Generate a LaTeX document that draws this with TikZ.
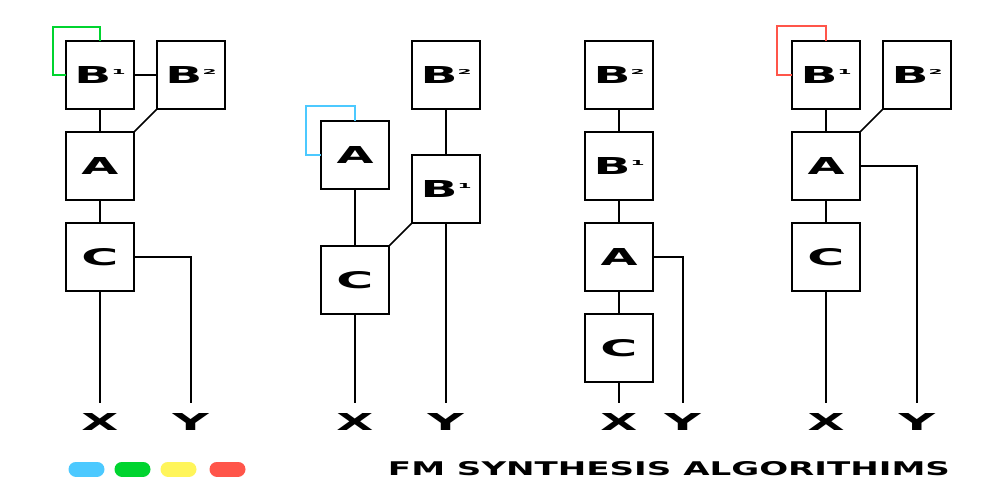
\documentclass[tikz,border=0pt]{standalone}
\usepackage{fontspec}
\setmainfont{DejaVu Sans}
\usepackage{graphicx}
\usetikzlibrary{positioning}
\definecolor{fbcyan}{HTML}{4CC9FF}
\definecolor{fbgreen}{HTML}{00D42F}
\definecolor{fbyellow}{HTML}{FFF55A}
\definecolor{fbred}{HTML}{FF554A}
\tikzstyle{op} = [draw=black, line width=2pt, rectangle, minimum size=68pt, inner sep=0pt, outer sep=0pt, fill=white]
\tikzstyle{wire} = [draw=black, line width=1.7pt]
\tikzstyle{fb} = [line width=1.6pt]
\tikzstyle{outlbl} = [minimum height=38pt, inner sep=0pt]
\tikzstyle{pill} = [line width=15pt, line cap=round]
\newcommand{\wlet}[1]{\resizebox{37pt}{17pt}{\textbf{#1}}}
\newcommand{\wsup}[1]{\raisebox{9pt}{\resizebox{14pt}{5pt}{\textbf{#1}}}}

\begin{document}
\begin{tikzpicture}[x=1pt, y=-1pt, node distance=23pt]
		\useasboundingbox (0,0) rectangle (1005,503);
		
		% algorithm 1
		\node[op] (b1i) at (100,75) {\wlet{B}\wsup{1}};
		\node[op, right=of b1i] (b2i) {\wlet{B}\wsup{2}};
		\node[op, below=of b1i] (ai) {\wlet{A}};
		\node[op, below=of ai] (ci) {\wlet{C}};
		\node[outlbl] (xi) at (100,422) {\wlet{X}};
		\node[outlbl] (yi) at (191,422) {\wlet{Y}};
		
		% algorithm 2
		\node[op] (aii) at (355,155) {\wlet{A}};
		\node[op] (b2ii) at (446,75) {\wlet{B}\wsup{2}};
		\node[op] (b1ii) at (446,189) {\wlet{B}\wsup{1}};
		\node[op] (cii) at (355,280) {\wlet{C}};
		\node[outlbl] (xii) at (355,422) {\wlet{X}};
		\node[outlbl] (yii) at (446,422) {\wlet{Y}};
		
		% algorithm 3
		\node[op] (b2iii) at (619,75) {\wlet{B}\wsup{2}};
		\node[op, below=of b2iii] (b1iii) {\wlet{B}\wsup{1}};
		\node[op, below=of b1iii] (aiii) {\wlet{A}};
		\node[op, below=of aiii] (ciii) {\wlet{C}};
		\node[outlbl] (xiii) at (619,422) {\wlet{X}};
		\node[outlbl] (yiii) at (683,422) {\wlet{Y}};
		
		% algorithm 4
		\node[op] (b1iv) at (826,75) {\wlet{B}\wsup{1}};
		\node[op, right=of b1iv] (b2iv) {\wlet{B}\wsup{2}};
		\node[op, below=of b1iv] (aiv) {\wlet{A}};
		\node[op, below=of aiv] (civ) {\wlet{C}};
		\node[outlbl] (xiv) at (826,422) {\wlet{X}};
		\node[outlbl] (yiv) at (917,422) {\wlet{Y}};
		
		% connections
		\draw [wire] (b1i) -- (b2i);
		\draw [wire] (b1i) -- (ai);
		\draw [wire] (b2i.south west) -- (ai.north east);
		\draw [wire] (ai) -- (ci);
		\draw [wire] (ci) -- (xi.north);
		\draw [wire] (ci.east) -| (yi.north);
		
		\draw [wire] (b2ii) -- (b1ii);
		\draw [wire] (aii) -- (cii);
		\draw [wire] (b1ii.south west) -- (cii.north east);
		\draw [wire] (cii) -- (xii.north);
		\draw [wire] (b1ii) -- (yii.north);
		
		\draw [wire] (b2iii) -- (b1iii);
		\draw [wire] (b1iii) -- (aiii);
		\draw [wire] (aiii) -- (ciii);
		\draw [wire] (ciii) -- (xiii.north);
		\draw [wire] (aiii.east) -| (yiii.north);
		
		\draw [wire] (b1iv) -- (aiv);
		\draw [wire] (b2iv.south west) -- (aiv.north east);
		\draw [wire] (aiv) -- (civ);
		\draw [wire] (civ) -- (xiv.north);
		\draw [wire] (aiv.east) -| (yiv.north);
		
		% feedback
		\draw [fb, fbgreen] (b1i.north) -- ++(0,-14) -| ([xshift=-13pt]b1i.west) -- (b1i.west);
		\draw [fb, fbcyan] (aii.north) -- ++(0,-15) -| ([xshift=-15pt]aii.west) -- (aii.west);
		\draw [fb, fbred] (b1iv.north) -- ++(0,-15) -| ([xshift=-15pt]b1iv.west) -- (b1iv.west);
		
		% legend and title
		\draw [pill, fbcyan] (76,469) -- (97,469);
		\draw [pill, fbgreen] (122,469) -- (143,469);
		\draw [pill, fbyellow] (168,469) -- (189,469);
		\draw [pill, fbred] (217,469) -- (238,469);
		\node (title) at (669,469) {\resizebox{562pt}{14pt}{\textbf{FM SYNTHESIS ALGORITHIMS}}};
		
\end{tikzpicture}
\end{document}
